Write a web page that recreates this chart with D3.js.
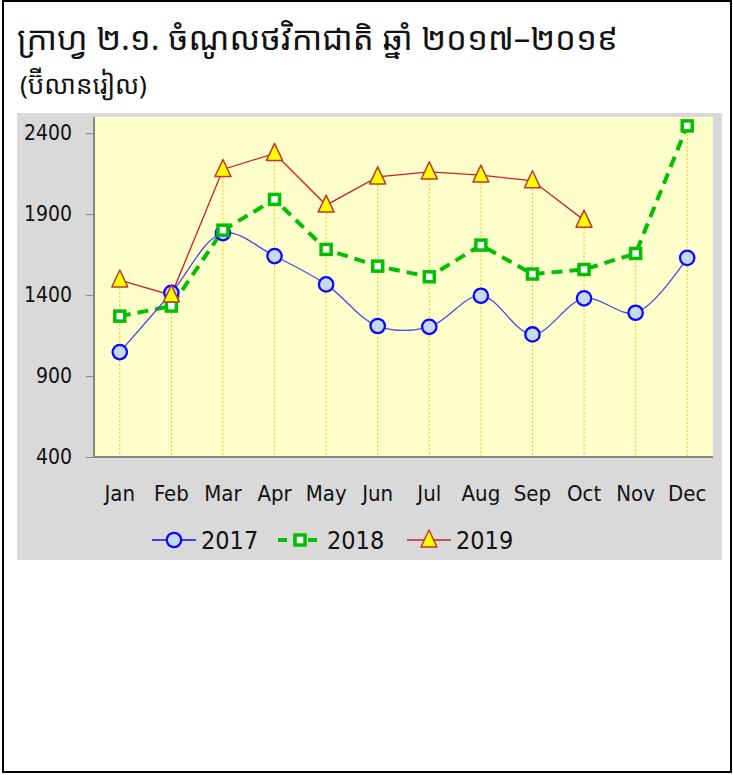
<!DOCTYPE html>
<html>
<head>
<meta charset="utf-8">
<script src="https://cdn.jsdelivr.net/npm/d3@7"></script>
<style>
  body { margin: 0; background: #fff; }
  svg { display: block; }
</style>
</head>
<body>
<div class="chart"></div>
<script>
const WIDTH = 733;
const HEIGHT = 775;
const PLOT = { left: 94, right: 713, top: 117, bottom: 457 };
const NARROW = '"DejaVu Sans Condensed", "Liberation Sans Narrow", "Liberation Sans", sans-serif';
const KHMER = '"Noto Sans Khmer", "Khmer OS", "Noto Sans", sans-serif';

const months = ['Jan', 'Feb', 'Mar', 'Apr', 'May', 'Jun', 'Jul', 'Aug', 'Sep', 'Oct', 'Nov', 'Dec'];
const yTicks = [400, 900, 1400, 1900, 2400];
const values2017 = [1048, 1414, 1783, 1641, 1466, 1209, 1204, 1396, 1157, 1380, 1291, 1630];
const values2018 = [1270, 1332, 1801, 1991, 1682, 1579, 1513, 1709, 1530, 1558, 1657, 2445];
const values2019 = [1493, 1400, 2176, 2275, 1956, 2130, 2161, 2141, 2106, 1863];
const seriesNames = ['2017', '2018', '2019'];

const titleText = 'ក្រាហ្វ ២.១. ចំណូលថវិកាជាតិ ឆ្នាំ ២០១៧–២០១៩';
const unitText = '(ប៊ីលានរៀល)';

var svg = d3.select('.chart').append('svg')
  .attr('width', WIDTH)
  .attr('height', HEIGHT);

// page frame
svg.append('rect')
  .attr('x', 3).attr('y', 1)
  .attr('width', 728).attr('height', 771)
  .attr('fill', 'none')
  .attr('stroke', '#000')
  .attr('stroke-width', 2);

svg.append('text')
  .attr('x', 17).attr('y', 50)
  .attr('font-size', 33)
  .attr('font-family', KHMER)
  .attr('fill', '#111')
  .text(titleText);

svg.append('text')
  .attr('x', 20).attr('y', 94)
  .attr('font-size', 26)
  .attr('font-family', KHMER)
  .attr('fill', '#111')
  .text(unitText);

// gray chart panel
svg.append('rect')
  .attr('x', 17).attr('y', 113)
  .attr('width', 705).attr('height', 447)
  .attr('fill', '#d9d9d9');

svg.append('rect')
  .attr('x', PLOT.left).attr('y', PLOT.top)
  .attr('width', PLOT.right - PLOT.left).attr('height', PLOT.bottom - PLOT.top)
  .attr('fill', '#ffffcc');

var x = d3.scaleBand()
  .domain(months)
  .range([PLOT.left, PLOT.right]);

var y = d3.scaleLinear()
  .domain([400, 2500])
  .range([PLOT.bottom, PLOT.top]);

function cx(i) {
  return x(months[i]) + x.bandwidth() / 2;
}

// drop lines from the highest point of each month
svg.append('g').selectAll('line')
  .data(months)
  .join('line')
  .attr('x1', (d, i) => cx(i))
  .attr('x2', (d, i) => cx(i))
  .attr('y1', (d, i) => y(d3.max([values2017[i], values2018[i], values2019[i]].filter(v => v != null))))
  .attr('y2', PLOT.bottom)
  .attr('stroke', '#ffc000')
  .attr('stroke-width', 1)
  .attr('stroke-dasharray', '2,2');

// axes
var yAxis = svg.append('g')
  .attr('transform', 'translate(' + PLOT.left + ',0)')
  .call(d3.axisLeft(y).tickValues(yTicks).tickFormat(d3.format('d')).tickSize(8).tickPadding(14));
yAxis.select('.domain').remove();
yAxis.selectAll('.tick line').attr('stroke', '#868686');
yAxis.selectAll('.tick text')
  .attr('font-size', 21)
  .attr('font-family', NARROW)
  .attr('fill', '#111');

var xAxis = svg.append('g')
  .attr('transform', 'translate(0,' + PLOT.bottom + ')')
  .call(d3.axisBottom(x).tickSize(0).tickPadding(28));
xAxis.select('.domain').remove();
xAxis.selectAll('.tick text')
  .attr('font-size', 22)
  .attr('font-family', NARROW)
  .attr('fill', '#111');

svg.append('line')
  .attr('x1', PLOT.left).attr('x2', PLOT.left)
  .attr('y1', PLOT.top).attr('y2', PLOT.bottom)
  .attr('stroke', '#868686').attr('stroke-width', 2);
svg.append('line')
  .attr('x1', PLOT.left).attr('x2', PLOT.right)
  .attr('y1', PLOT.bottom).attr('y2', PLOT.bottom)
  .attr('stroke', '#868686').attr('stroke-width', 2);

var smoothLine = d3.line()
  .x((d, i) => cx(i))
  .y(d => y(d))
  .curve(d3.curveCatmullRom.alpha(0.5));

var straightLine = d3.line()
  .x((d, i) => cx(i))
  .y(d => y(d));

// 2019
svg.append('path')
  .datum(values2019)
  .attr('d', straightLine)
  .attr('fill', 'none')
  .attr('stroke', '#d02020')
  .attr('stroke-width', 1.3);

// 2018
svg.append('path')
  .datum(values2018)
  .attr('d', straightLine)
  .attr('fill', 'none')
  .attr('stroke', '#00c000')
  .attr('stroke-width', 4)
  .attr('stroke-dasharray', '11,7');

// 2017
svg.append('path')
  .datum(values2017)
  .attr('d', smoothLine)
  .attr('fill', 'none')
  .attr('stroke', '#4a4ae8')
  .attr('stroke-width', 1.3);

var circle = function (g, px, py) {
  g.append('circle')
    .attr('cx', px).attr('cy', py)
    .attr('r', 7.2)
    .attr('fill', '#c5d9f1')
    .attr('stroke', '#0a0aff')
    .attr('stroke-width', 2.3);
};

var square = function (g, px, py) {
  g.append('rect')
    .attr('x', px - 5).attr('y', py - 5)
    .attr('width', 10).attr('height', 10)
    .attr('fill', '#fff')
    .attr('stroke', '#00c000')
    .attr('stroke-width', 3.5);
};

var triangle = function (g, px, py) {
  g.append('polygon')
    .attr('points', (px - 8) + ',' + (py + 7) + ' ' + px + ',' + (py - 10) + ' ' + (px + 8) + ',' + (py + 7))
    .attr('fill', '#ffff00')
    .attr('stroke', '#c0392b')
    .attr('stroke-width', 1.5)
    .attr('stroke-linejoin', 'round');
};

var markers = svg.append('g');
values2017.forEach((v, i) => circle(markers, cx(i), y(v)));
values2018.forEach((v, i) => square(markers, cx(i), y(v)));
values2019.forEach((v, i) => triangle(markers, cx(i), y(v)));

// legend
var legend = svg.append('g');
var legendY = 540;
var legendX = [152, 278, 407];
var legendStyle = [
  { stroke: '#0a0aff', width: 1.5, dash: null, marker: circle },
  { stroke: '#00c000', width: 4, dash: '9,6', marker: square },
  { stroke: '#d02020', width: 1.5, dash: null, marker: triangle }
];
seriesNames.forEach((name, i) => {
  var s = legendStyle[i];
  legend.append('line')
    .attr('x1', legendX[i]).attr('x2', legendX[i] + 44)
    .attr('y1', legendY).attr('y2', legendY)
    .attr('stroke', s.stroke)
    .attr('stroke-width', s.width)
    .attr('stroke-dasharray', s.dash);
  s.marker(legend, legendX[i] + 22, legendY);
  legend.append('text')
    .attr('x', legendX[i] + 49).attr('y', legendY + 9)
    .attr('font-size', 25)
    .attr('font-family', NARROW)
    .attr('fill', '#111')
    .text(name);
});
</script>
</body>
</html>
